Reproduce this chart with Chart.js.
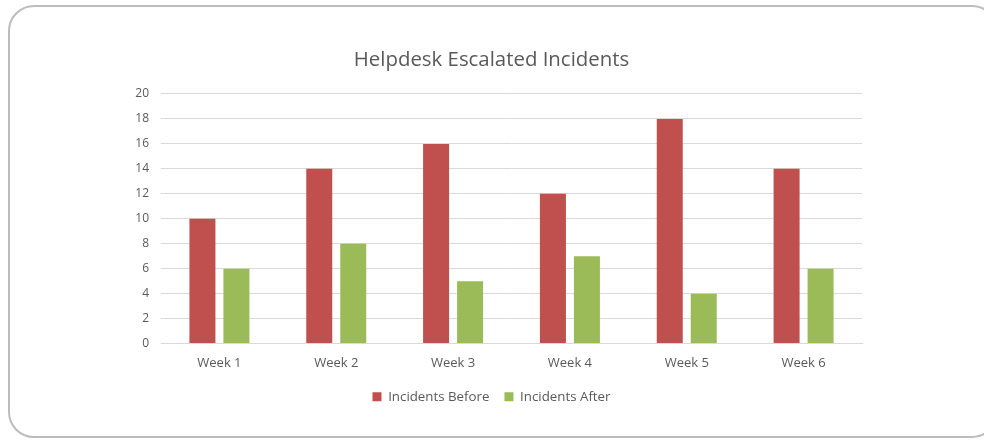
<!DOCTYPE html>
<html>
<head>
<meta charset="utf-8">
<script src="https://cdn.jsdelivr.net/npm/chart.js@4"></script>
<style>
    body { margin: 0; background: #fff; }
    #wrap { position: relative; width: 984px; height: 442px; overflow: hidden; }
    #frame {
        position: absolute; left: 8px; top: 5px; width: 990px; height: 433px;
        border: 2px solid #bcbcbc; border-radius: 26px; box-sizing: border-box;
    }
    canvas { position: absolute; left: 0; top: 0; }
</style>
</head>
<body>
<div id="wrap">
    <div id="frame"></div>
    <canvas id="chart" width="984" height="442"></canvas>
</div>
<script>
const weeks = ["Week 1", "Week 2", "Week 3", "Week 4", "Week 5", "Week 6"];
const incidentsBefore = [10, 14, 16, 12, 18, 14];
const incidentsAfter = [6, 8, 5, 7, 4, 6];

const font = "'Open Sans', Lato, sans-serif";

const ctx = document.getElementById("chart").getContext("2d");
new Chart(ctx, {
    type: "bar",
    data: {
        labels: weeks,
        datasets: [
            {
                label: "Incidents Before",
                data: incidentsBefore,
                backgroundColor: "#C0504D",
                categoryPercentage: 0.582,
                barPercentage: 0.765
            },
            {
                label: "Incidents After",
                data: incidentsAfter,
                backgroundColor: "#9BBB59",
                categoryPercentage: 0.582,
                barPercentage: 0.765
            }
        ]
    },
    options: {
        responsive: false,
        animation: false,
        layout: { padding: { left: 121, right: 122, top: 0, bottom: 28.5 } },
        plugins: {
            title: {
                display: true,
                text: "Helpdesk Escalated Incidents",
                color: "#595959",
                font: { family: font, size: 20.4, weight: "normal" },
                padding: { top: 48, bottom: 21.5 }
            },
            legend: {
                position: "bottom",
                labels: {
                    color: "#595959",
                    font: { family: font, size: 13.3 },
                    boxWidth: 9,
                    boxHeight: 9,
                    padding: 15
                }
            },
            tooltip: { enabled: false }
        },
        scales: {
            x: {
                grid: { display: false },
                border: { color: "#d9d9d9" },
                ticks: { color: "#595959", font: { family: font, size: 13 }, padding: 4 }
            },
            y: {
                min: 0,
                max: 20,
                ticks: { stepSize: 2, color: "#595959", font: { family: font, size: 12 }, padding: 12 },
                grid: { color: "#d9d9d9", drawTicks: false },
                border: { display: false },
                afterFit: s => { s.width = 40; }
            }
        }
    }
});
</script>
</body>
</html>
